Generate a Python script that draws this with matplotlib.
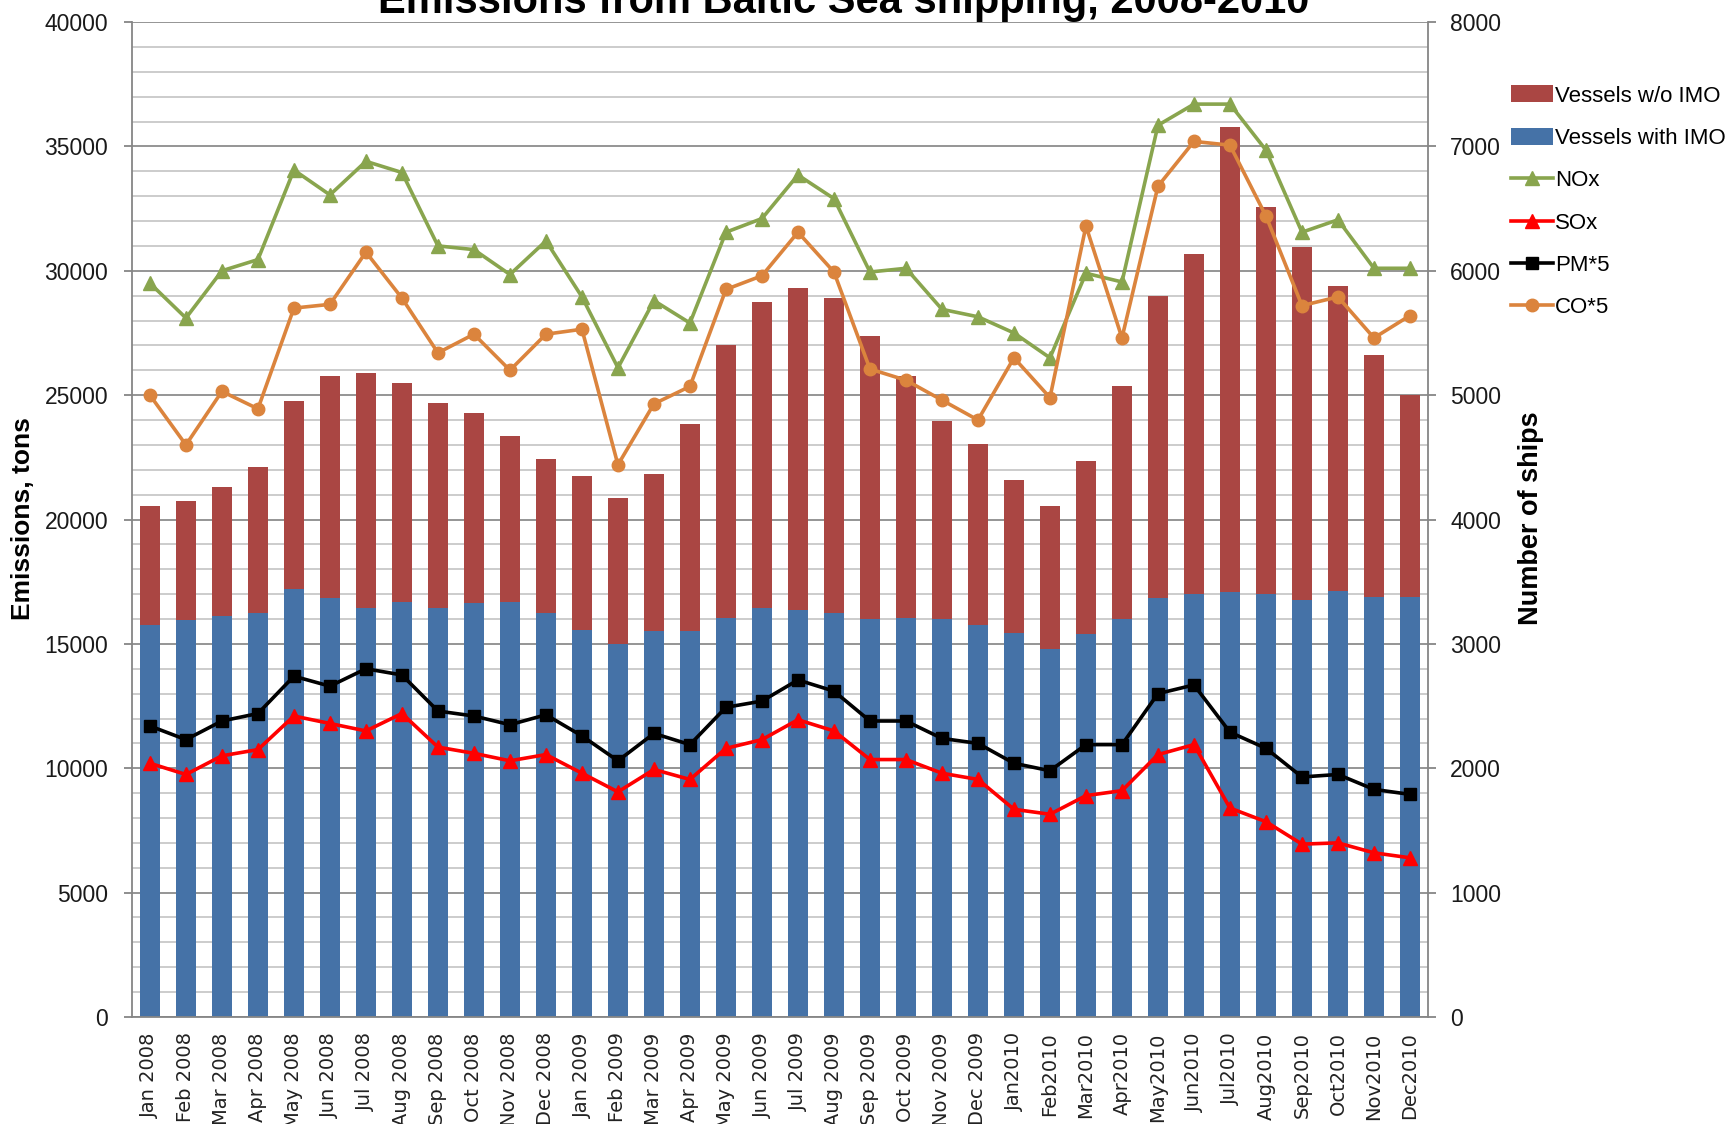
import matplotlib
matplotlib.use("Agg")
import matplotlib.pyplot as plt
from matplotlib.ticker import MultipleLocator
import numpy as np

months = ["Jan 2008", "Feb 2008", "Mar 2008", "Apr 2008", "May 2008", "Jun 2008",
          "Jul 2008", "Aug 2008", "Sep 2008", "Oct 2008", "Nov 2008", "Dec 2008",
          "Jan 2009", "Feb 2009", "Mar 2009", "Apr 2009", "May 2009", "Jun 2009",
          "Jul 2009", "Aug 2009", "Sep 2009", "Oct 2009", "Nov 2009", "Dec 2009",
          "Jan2010", "Feb2010", "Mar2010", "Apr2010", "May2010", "Jun2010",
          "Jul2010", "Aug2010", "Sep2010", "Oct2010", "Nov2010", "Dec2010"]

# Number of ships (right axis)
ships_with_imo = [3150, 3190, 3225, 3250, 3440, 3365, 3290, 3335, 3290, 3325, 3335, 3250,
                  3110, 3000, 3100, 3100, 3210, 3290, 3275, 3250, 3200, 3210, 3200, 3155,
                  3090, 2955, 3080, 3200, 3365, 3400, 3415, 3400, 3355, 3425, 3375, 3375]
ships_without_imo = [960, 960, 1035, 1175, 1510, 1785, 1890, 1765, 1645, 1530, 1340, 1240,
                     1240, 1175, 1265, 1665, 2190, 2460, 2590, 2530, 2275, 1940, 1590, 1450,
                     1230, 1155, 1390, 1870, 2435, 2735, 3745, 3110, 2835, 2450, 1945, 1625]

# Emissions, tons (left axis)
nox = [29500, 28100, 30000, 30450, 34050, 33050, 34400, 33950, 31000, 30850, 29850, 31200,
       28950, 26100, 28800, 27900, 31550, 32100, 33850, 32900, 29950, 30100, 28450, 28150,
       27500, 26500, 29900, 29550, 35850, 36700, 36700, 34850, 31550, 32050, 30100, 30100]
sox = [10200, 9750, 10500, 10750, 12100, 11800, 11500, 12200, 10850, 10600, 10300, 10550,
       9800, 9050, 9950, 9550, 10800, 11150, 11950, 11500, 10350, 10350, 9800, 9550,
       8350, 8150, 8900, 9100, 10550, 10950, 8400, 7850, 6950, 7000, 6600, 6400]
pm5 = [11700, 11150, 11900, 12200, 13700, 13300, 14000, 13750, 12300, 12100, 11750, 12150,
       11300, 10300, 11400, 10950, 12450, 12700, 13550, 13100, 11900, 11900, 11200, 11000,
       10200, 9900, 10950, 10950, 13000, 13350, 11450, 10800, 9650, 9750, 9150, 8950]
co5 = [25000, 23000, 25150, 24450, 28500, 28650, 30750, 28900, 26700, 27450, 26000, 27450,
       27650, 22200, 24650, 25350, 29250, 29800, 31550, 29950, 26050, 25600, 24800, 24000,
       26500, 24900, 31800, 27300, 33400, 35200, 35050, 32200, 28600, 28950, 27300, 28200]

C_BLUE = "#4572A7"
C_RED = "#AA4643"
C_GREEN = "#89A54E"
C_ORANGE = "#DB843D"
C_SOX = "#FF0000"
C_PM = "#000000"
AXIS_GRAY = "#868686"

TICK_FONT = ["Liberation Sans", "DejaVu Sans"]

fig = plt.figure(figsize=(17.29, 11.24), dpi=100)
ax_r = fig.add_axes([0.0763, 0.0952, 0.7496, 0.8852])   # bars (ships, right axis)
ax_e = ax_r.twinx()                                      # lines (emissions, left axis)
ax_e.yaxis.set_label_position("left")
ax_e.yaxis.tick_left()
ax_r.yaxis.tick_right()
ax_r.yaxis.set_label_position("right")

x = np.arange(len(months))
w = 0.56
ax_r.bar(x, ships_with_imo, width=w, color=C_BLUE, label="Vessels with IMO", zorder=2)
ax_r.bar(x, ships_without_imo, width=w, bottom=ships_with_imo, color=C_RED,
         label="Vessels w/o IMO", zorder=2)

ax_r.set_ylim(0, 8000)
ax_r.yaxis.set_major_locator(MultipleLocator(1000))
ax_r.yaxis.set_minor_locator(MultipleLocator(200))
ax_r.grid(which="major", axis="y", color="#8C8C8C", linewidth=1.3, zorder=0)
ax_r.grid(which="minor", axis="y", color="#C8C8C8", linewidth=1.3, zorder=0)
ax_r.set_axisbelow(True)

lw = 2.6
l_nox, = ax_e.plot(x, nox, color=C_GREEN, lw=lw, marker="^", ms=10, label="NOx")
l_sox, = ax_e.plot(x, sox, color=C_SOX, lw=lw, marker="^", ms=10, label="SOx")
l_pm, = ax_e.plot(x, pm5, color=C_PM, lw=lw, marker="s", ms=8.5, label="PM*5")
l_co, = ax_e.plot(x, co5, color=C_ORANGE, lw=lw, marker="o", ms=9, label="CO*5")
ax_e.set_ylim(0, 40000)
ax_e.yaxis.set_major_locator(MultipleLocator(5000))
ax_e.patch.set_visible(False)
ax_e.set_zorder(ax_r.get_zorder() + 1)

ax_r.set_xlim(-0.5, len(months) - 0.5)
ax_r.set_xticks(x)
ax_r.set_xticklabels(months, rotation=90, fontsize=14, family=["DejaVu Sans"], color="#222222")
ax_r.tick_params(axis="x", length=0, pad=11)

for a in (ax_r, ax_e):
    for s in a.spines.values():
        s.set_visible(False)
ax_e.spines["left"].set_visible(True)
ax_e.spines["left"].set_color(AXIS_GRAY)
ax_e.spines["left"].set_linewidth(1.3)
ax_r.spines["right"].set_visible(True)
ax_r.spines["right"].set_color(AXIS_GRAY)
ax_r.spines["right"].set_linewidth(1.3)
ax_r.spines["bottom"].set_visible(True)
ax_r.spines["bottom"].set_color(AXIS_GRAY)
ax_r.spines["bottom"].set_linewidth(1.3)

ax_e.tick_params(axis="y", which="major", length=6, width=1.3, color=AXIS_GRAY, pad=11,
                 labelsize=16.5)
ax_r.tick_params(axis="y", which="major", length=6, width=1.3, color=AXIS_GRAY, pad=10,
                 labelsize=16.5)
ax_r.tick_params(axis="y", which="minor", length=0)
for lab in ax_e.get_yticklabels() + ax_r.get_yticklabels():
    lab.set_family(TICK_FONT)
    lab.set_color("#1a1a1a")

fig.text(0.0133, 0.539, "Emissions, tons", rotation=90, ha="center", va="center",
         fontsize=19, fontweight="bold", family=TICK_FONT)
fig.text(0.8855, 0.539, "Number of ships", rotation=90, ha="center", va="center",
         fontsize=19.5, fontweight="bold", family=TICK_FONT)
fig.text(0.488, 0.9884, "Emissions from Baltic Sea shipping, 2008-2010", ha="center",
         va="baseline", fontsize=30, fontweight="bold", family=TICK_FONT)

handles = [ax_r.containers[1].patches[0], ax_r.containers[0].patches[0], l_nox, l_sox, l_pm, l_co]
labels = ["Vessels w/o IMO", "Vessels with IMO", "NOx", "SOx", "PM*5", "CO*5"]
leg = fig.legend(handles, labels, loc="upper left", bbox_to_anchor=(0.874, 0.924),
                 frameon=False, prop={"family": TICK_FONT, "size": 16},
                 handlelength=1.9, handleheight=0.8, handletextpad=0.08, labelspacing=0.95,
                 borderaxespad=0, borderpad=0)

fig.savefig("out.png", dpi=100)
